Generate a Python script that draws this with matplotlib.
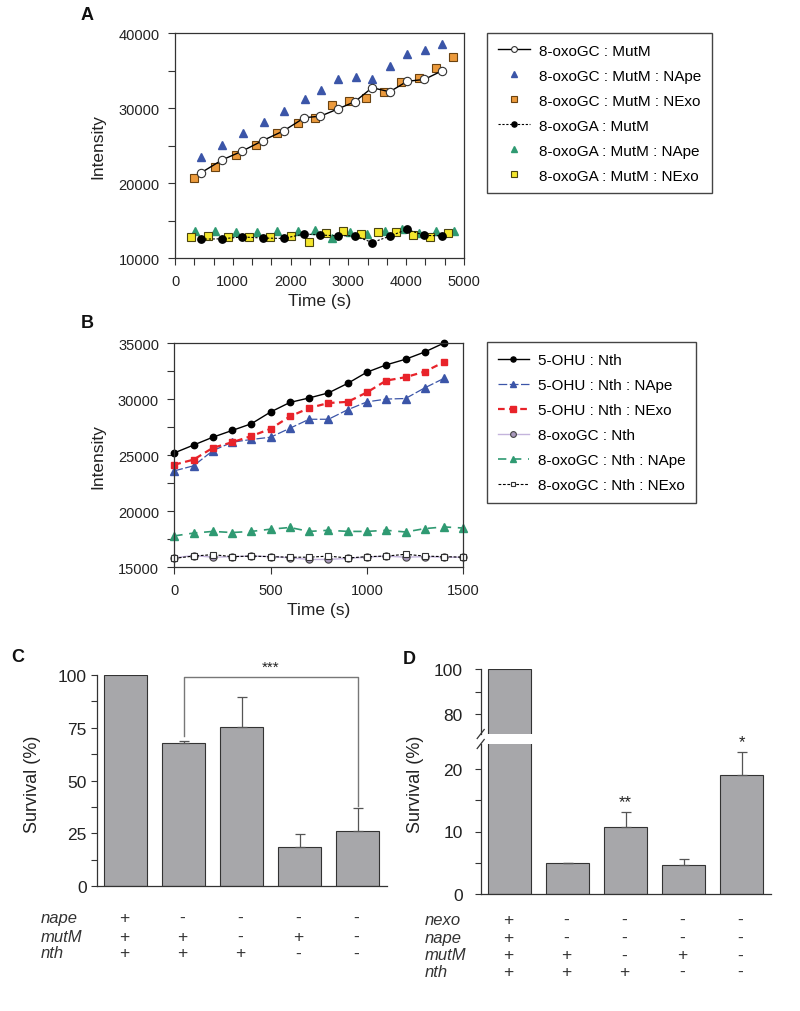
import matplotlib
matplotlib.use('Agg')
import matplotlib.pyplot as plt
import matplotlib.transforms as mtransforms
from matplotlib.lines import Line2D
from matplotlib.ticker import MultipleLocator

plt.rcParams['font.family'] = ['Liberation Sans', 'DejaVu Sans']

# ---------------- panel A data (time in s, intensity) ----------------
gc_mutm_t = [450, 810, 1165, 1520, 1880, 2240, 2515, 2815, 3115, 3410, 3715, 4015, 4315, 4620]
gc_mutm = [21400, 23100, 24300, 25700, 27000, 28750, 28950, 29900, 30900, 32750, 32200, 33600, 33850, 35000]
gc_nape_t = [455, 815, 1170, 1535, 1890, 2250, 2525, 2825, 3125, 3415, 3720, 4020, 4320, 4625]
gc_nape = [23450, 25050, 26650, 28200, 29600, 31250, 32450, 33900, 34150, 33950, 35650, 37250, 37800, 38550]
gc_nexo_t = [335, 690, 1050, 1405, 1765, 2130, 2415, 2715, 3015, 3310, 3615, 3915, 4215, 4520, 4815]
gc_nexo = [20750, 22200, 23800, 25150, 26750, 28050, 28700, 30500, 31000, 31400, 32200, 33450, 34000, 35350, 36850]
ga_mutm_t = [450, 810, 1165, 1520, 1880, 2240, 2515, 2815, 3115, 3410, 3715, 4015, 4315, 4620]
ga_mutm = [12550, 12600, 12850, 12700, 12650, 13250, 13100, 13000, 13000, 12100, 12950, 13850, 13050, 13000]
ga_nape_t = [340, 700, 1055, 1415, 1770, 2135, 2430, 2720, 3020, 3320, 3630, 3920, 4220, 4520, 4830]
ga_nape = [13600, 13650, 13550, 13450, 13700, 13600, 13750, 12750, 13550, 13300, 13700, 13900, 13400, 13600, 13650]
ga_nexo_t = [270, 565, 925, 1285, 1645, 2005, 2320, 2620, 2910, 3210, 3520, 3820, 4120, 4420, 4720]
ga_nexo = [12800, 12950, 12850, 12900, 12850, 12950, 12150, 13400, 13650, 13250, 13450, 13450, 13050, 12800, 13350]

# ---------------- panel B data ----------------
t_b = [0, 100, 200, 300, 400, 500, 600, 700, 800, 900, 1000, 1100, 1200, 1300, 1400]
t_b_long = [0, 100, 200, 300, 400, 500, 600, 700, 800, 900, 1000, 1100, 1200, 1300, 1400, 1500]
ohu_nth = [25200, 25900, 26600, 27200, 27800, 28850, 29700, 30100, 30550, 31400, 32400, 33050, 33550, 34200, 35000]
ohu_nape = [23600, 24050, 25400, 26150, 26400, 26600, 27400, 28200, 28200, 29050, 29750, 30000, 30050, 31000, 31850]
ohu_nexo = [24150, 24600, 25650, 26150, 26700, 27350, 28450, 29200, 29650, 29750, 30600, 31650, 31950, 32450, 33300]
gc_nth_b = [15850, 16050, 15900, 15950, 16000, 15950, 15850, 15700, 15700, 15800, 15900, 16000, 15900, 15950, 15900, 15900]
gc_nape_b = [17800, 18050, 18200, 18100, 18200, 18400, 18550, 18200, 18300, 18200, 18200, 18300, 18150, 18450, 18600, 18500]
gc_nexo_b = [15800, 16000, 16130, 15950, 16000, 15950, 15900, 15900, 16000, 15830, 15950, 16000, 16160, 16000, 15950, 15900]

# ---------------- panel C / D data ----------------
surv_c = [100, 67.7, 75.2, 18.6, 26.2]
err_c = [0, 1.2, 14.5, 6.2, 10.9]
rows_c = ['nape', 'mutM', 'nth']
signs_c = [['+', '-', '-', '-', '-'],
           ['+', '+', '-', '+', '-'],
           ['+', '+', '+', '-', '-']]

surv_d = [100, 4.9, 10.7, 4.6, 19.0]
err_d = [0, 0.12, 2.45, 0.95, 3.7]
stars_d = ['', '', '**', '', '*']
rows_d = ['nexo', 'nape', 'mutM', 'nth']
signs_d = [['+', '-', '-', '-', '-'],
           ['+', '-', '-', '-', '-'],
           ['+', '+', '-', '+', '-'],
           ['+', '+', '+', '-', '-']]

W, H = 800, 1012
fig = plt.figure(figsize=(8, 10.12), dpi=100)
spine_col = '#333333'
txt_col = '#222222'


def fx(px):
    return px / W


def fy(py):
    return 1 - py / H


def style_box(ax):
    for s in ax.spines.values():
        s.set_linewidth(0.9)
        s.set_color(spine_col)
    ax.tick_params(which='both', direction='out', length=5, width=0.8, colors=spine_col,
                   top=False, right=False, labelsize=10.5, pad=6, labelcolor=txt_col)


# ---------------- A ----------------
axA = fig.add_axes([fx(175), fy(259.3), fx(464 - 175), (259.3 - 34.3) / H])
axA.plot(gc_nape_t, gc_nape, '^', ls='none', color='#3b55a8', ms=6.3, label='8-oxoGC : MutM : NApe')
axA.plot(gc_nexo_t, gc_nexo, 's', ls='none', mfc='#ec9a3c', mec='#6a4210', mew=0.8, ms=5.5,
         label='8-oxoGC : MutM : NExo')
axA.plot(gc_mutm_t, gc_mutm, '-o', color='black', lw=1, mfc='white', mec='#333333', mew=0.8, ms=6,
         label='8-oxoGC : MutM')
axA.plot(ga_nape_t, ga_nape, '^', ls='none', color='#2f9a72', ms=6.3, label='8-oxoGA : MutM : NApe')
axA.plot(ga_nexo_t, ga_nexo, 's', ls='none', mfc='#f4e62c', mec='#4a4410', mew=0.8, ms=5.5,
         label='8-oxoGA : MutM : NExo')
axA.plot(ga_mutm_t, ga_mutm, 'o', ls=(0, (2, 1.5)), color='black', lw=0.8, ms=5.3, label='8-oxoGA : MutM')
axA.set_xlim(0, 5000)
axA.set_ylim(10000, 40000)
axA.xaxis.set_major_locator(MultipleLocator(1000))
axA.xaxis.set_minor_locator(MultipleLocator(1000 / 3))
axA.yaxis.set_major_locator(MultipleLocator(10000))
axA.yaxis.set_minor_locator(MultipleLocator(5000))
style_box(axA)
axA.set_xlabel('Time (s)', fontsize=12.5, color=txt_col, va='top')
axA.xaxis.set_label_coords(0.5, -0.155)
axA.set_ylabel('Intensity', fontsize=12.5, color=txt_col)
axA.yaxis.set_label_coords(-0.24, 0.5)

hA, lA = axA.get_legend_handles_labels()
orderA = ['8-oxoGC : MutM', '8-oxoGC : MutM : NApe', '8-oxoGC : MutM : NExo',
          '8-oxoGA : MutM', '8-oxoGA : MutM : NApe', '8-oxoGA : MutM : NExo']
hA = [hA[lA.index(k)] for k in orderA]
axA.legend(hA, orderA, loc='upper left', bbox_to_anchor=(fx(487.3), fy(34)), bbox_transform=fig.transFigure,
           borderaxespad=0, fancybox=False, edgecolor='#444444', fontsize=11, labelspacing=0.72,
           handlelength=2.1, handletextpad=0.6, borderpad=0.7, markerscale=0.7, framealpha=1)

# ---------------- B ----------------
axB = fig.add_axes([fx(174.3), fy(568.3), fx(463.3 - 174.3), (568.3 - 344) / H])
axB.plot(t_b, ohu_nth, '-o', color='black', lw=1, ms=4.6, label='5-OHU : Nth')
axB.plot(t_b, ohu_nape, '^', ls=(0, (7, 2)), color='#3b55a8', lw=0.9, ms=5.6, label='5-OHU : Nth : NApe')
axB.plot(t_b, ohu_nexo, 's', ls=(0, (3, 2)), color='#e8232a', lw=1.6, ms=4.6, label='5-OHU : Nth : NExo')
axB.plot(t_b_long, gc_nth_b, 'o', ls='-', color='#c4b4dc', lw=1, mfc='#a898bc', mec='#444444', mew=0.8,
         ms=5.2, label='8-oxoGC : Nth')
axB.plot(t_b_long, gc_nape_b, '^', ls=(0, (5, 4)), color='#2f9a72', lw=1.2, ms=5.6,
         label='8-oxoGC : Nth : NApe')
axB.plot(t_b_long, gc_nexo_b, 's', ls=(0, (2.5, 1.5)), color='black', lw=0.8, mfc='white', mec='#333333',
         mew=0.8, ms=4.4, label='8-oxoGC : Nth : NExo')
axB.set_xlim(0, 1500)
axB.set_ylim(15000, 35000)
axB.xaxis.set_major_locator(MultipleLocator(500))
axB.yaxis.set_major_locator(MultipleLocator(5000))
axB.yaxis.set_minor_locator(MultipleLocator(2500))
style_box(axB)
for ln in axA.lines + axB.lines:
    ln.set_clip_on(False)
axB.set_xlabel('Time (s)', fontsize=12.5, color=txt_col, va='top')
axB.xaxis.set_label_coords(0.5, -0.155)
axB.set_ylabel('Intensity', fontsize=12.5, color=txt_col)
axB.yaxis.set_label_coords(-0.24, 0.5)
axB.legend(loc='upper left', bbox_to_anchor=(fx(487.3), fy(343.3)), bbox_transform=fig.transFigure,
           borderaxespad=0, fancybox=False, edgecolor='#444444', fontsize=11, labelspacing=0.72,
           handlelength=2.0, handletextpad=0.6, borderpad=0.7, markerscale=0.8, framealpha=1)

bar_col = '#a7a7aa'
x5 = list(range(5))


def bar_axis(ax):
    for s in ('top', 'right'):
        ax.spines[s].set_visible(False)
    for s in ('left', 'bottom'):
        ax.spines[s].set_linewidth(0.9)
        ax.spines[s].set_color(spine_col)
    ax.set_xlim(-0.5, 4.5)
    ax.set_xticks([])
    ax.tick_params(axis='y', which='both', direction='out', length=4, width=0.8, colors=spine_col,
                   labelsize=12.5, labelcolor=txt_col)


# ---------------- C ----------------
axC = fig.add_axes([fx(96.7), fy(887.3), fx(386.7 - 96.7), (887.3 - 676) / H])
axC.bar(x5, surv_c, width=0.75, color=bar_col, edgecolor=spine_col, linewidth=0.8)
axC.errorbar(x5[1:], surv_c[1:], yerr=[[0] * 4, err_c[1:]], fmt='none', ecolor='#555555',
             elinewidth=0.9, capsize=3.6, capthick=0.9)
axC.set_ylim(0, 100)
axC.set_yticks([0, 25, 50, 75, 100])
axC.yaxis.set_minor_locator(MultipleLocator(12.5))
bar_axis(axC)
axC.tick_params(axis='y', pad=3)
axC.plot([1, 1, 4, 4], [71.3, 99.2, 99.2, 38.2], color='#777777', lw=1, clip_on=False)
axC.text(2.5, 100.5, '***', ha='center', va='bottom', fontsize=11, color=txt_col)
fig.text(fx(32.5), fy(784.5), 'Survival (%)', rotation=90, ha='center', va='center', fontsize=13,
         color=txt_col)

trC = mtransforms.blended_transform_factory(axC.transData, fig.transFigure)
rows_c_y = [918.3, 937.3, 954]
for name, sg, yy in zip(rows_c, signs_c, rows_c_y):
    fig.text(fx(40.7), fy(yy), name, style='italic', ha='left', va='center', fontsize=12, color='#333333')
    for i, s in enumerate(sg):
        fig.text(i - 0.03, fy(yy), s, transform=trC, ha='center', va='center', fontsize=12.5, color='#333333')

# ---------------- D (broken axis) ----------------
axD = fig.add_axes([fx(480.7), fy(895), fx(770.7 - 480.7), 150 / H])
axDu = fig.add_axes([fx(480.7), fy(735), fx(770.7 - 480.7), (735 - 670.3) / H])
for a in (axD, axDu):
    a.bar(x5, surv_d, width=0.75, color=bar_col, edgecolor=spine_col, linewidth=0.8)
    bar_axis(a)
    a.tick_params(axis='y', pad=9)
axD.errorbar(x5[1:], surv_d[1:], yerr=[[0] * 4, err_d[1:]], fmt='none', ecolor='#555555',
             elinewidth=0.9, capsize=3.6, capthick=0.9)
axD.set_ylim(0, 24)
axD.set_yticks([0, 10, 20])
axD.yaxis.set_minor_locator(MultipleLocator(5))
axDu.set_ylim(71, 100)
axDu.set_yticks([80, 100])
axDu.yaxis.set_minor_locator(MultipleLocator(10))
axDu.spines['bottom'].set_visible(False)
for i, st in enumerate(stars_d):
    if st:
        axD.text(i, surv_d[i] + err_d[i] + 0.5, st, ha='center', va='bottom', fontsize=12, color=txt_col,
                 clip_on=False)
# break marks on the y axis
for cy in (735, 745):
    fig.add_artist(Line2D([fx(477.2), fx(484.2)], [fy(cy + 4.5), fy(cy - 4.5)], color=spine_col, lw=0.9))
fig.text(fx(415.5), fy(784), 'Survival (%)', rotation=90, ha='center', va='center', fontsize=13,
         color=txt_col)

trD = mtransforms.blended_transform_factory(axD.transData, fig.transFigure)
rows_d_y = [920.7, 938.3, 956, 972.7]
for name, sg, yy in zip(rows_d, signs_d, rows_d_y):
    fig.text(fx(425), fy(yy), name, style='italic', ha='left', va='center', fontsize=12, color='#333333')
    for i, s in enumerate(sg):
        fig.text(i - 0.03, fy(yy), s, transform=trD, ha='center', va='center', fontsize=12.5, color='#333333')

# panel letters
for lab, px, py in [('A', 87, 15), ('B', 87, 323), ('C', 18, 657), ('D', 409, 659)]:
    fig.text(fx(px), fy(py), lab, fontweight='bold', fontsize=13, ha='center', va='center', color='#111111')

fig.savefig('out.png', dpi=100, facecolor='white')
